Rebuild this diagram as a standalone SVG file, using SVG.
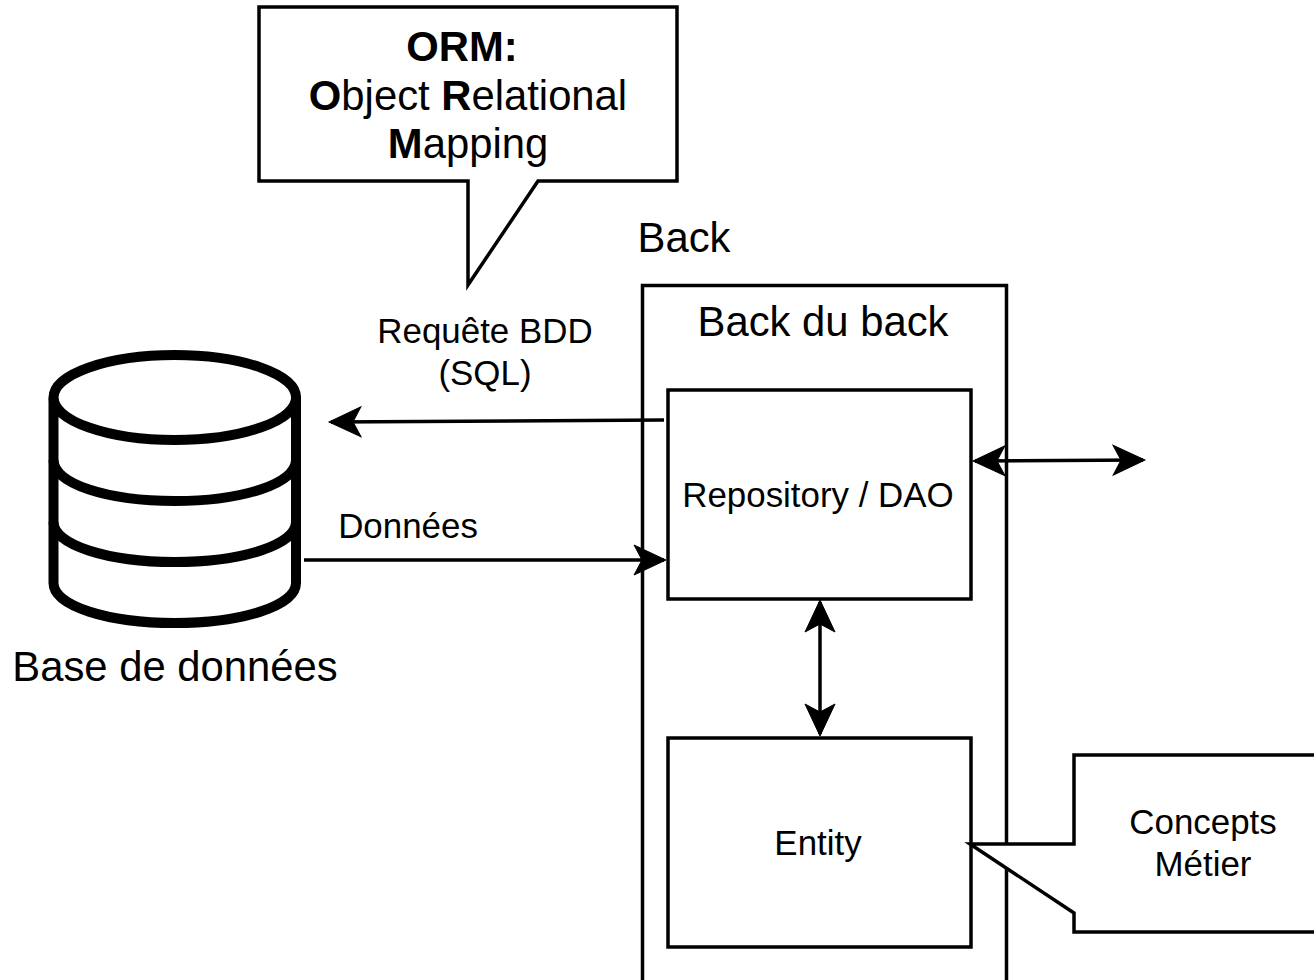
<svg xmlns="http://www.w3.org/2000/svg" width="1314" height="980" viewBox="0 0 1314 980">
<defs>
<marker id="a" markerUnits="userSpaceOnUse" markerWidth="38" markerHeight="38" refX="31" refY="19" orient="auto-start-reverse" viewBox="0 0 38 38"><path d="M1 4 L33 19 L1 34 L9 19 Z" fill="#000" stroke="#000" stroke-width="1"/></marker>
</defs>
<style>
text{font-family:"Liberation Sans",Arial,sans-serif;fill:#000;text-anchor:middle}
.b{fill:#fff;stroke:#000;stroke-width:3.5}
.c{fill:none;stroke:#000;stroke-width:3.5;marker-end:url(#a)}
.d{fill:none;stroke:#000;stroke-width:3.5;marker-start:url(#a);marker-end:url(#a)}
.l{font-size:41.8px}.m{font-size:34.9px}
.db{fill:none;stroke:#000;stroke-width:10}
</style>
<g id="back"><rect class="b" x="642.500" y="285.500" width="364" height="720"/><text class="l" x="823" y="336">Back du back</text></g>
<text id="back-label" class="l" x="684" y="252">Back</text>
<g id="repository"><rect class="b" x="668" y="390" width="303" height="209"/><text class="m" x="818" y="506.500">Repository / DAO</text></g>
<g id="entity"><rect class="b" x="668" y="738" width="303" height="209"/><text class="m" x="818" y="854.500">Entity</text></g>
<g id="orm"><path class="b" d="M259 7H677V181H538L468 285V181H259Z"/>
<text class="l" x="462" y="60.500" font-weight="700">ORM:</text>
<text class="l" x="468" y="109.500"><tspan font-weight="700">O</tspan>bject <tspan font-weight="700">R</tspan>elational</text>
<text class="l" x="468" y="158"><tspan font-weight="700">M</tspan>apping</text></g>
<g id="concepts"><path class="b" d="M1320 755H1074V844H970L1074 913V932H1320Z"/>
<text class="m" x="1203" y="834">Concepts</text><text class="m" x="1203" y="875.500">Métier</text></g>
<g id="database"><ellipse class="db" cx="174.800" cy="397.500" rx="121.300" ry="42.500"/>
<path class="db" d="M53.500 398V583C53.500 606 108 623 174.800 623S296 606 296 583V398"/>
<path class="db" d="M53.500 460C53.500 484 108 501 174.800 501S296 484 296 460"/>
<path class="db" d="M53.500 522C53.500 545 108 562 174.800 562S296 545 296 522"/>
<text class="l" x="175" y="680.500">Base de données</text></g>
<text id="req1" class="m" x="485" y="342.500">Requête BDD</text><text id="req2" class="m" x="485" y="384.500">(SQL)</text>
<text id="donnees" class="m" x="408" y="537.500">Données</text>
<g id="connectors">
<path class="c" d="M664 420L331 422"/>
<path class="c" d="M304 560L664 560"/>
<path class="d" d="M975 461L1143 460"/>
<path class="d" d="M820 602V734"/>
</g>
</svg>
